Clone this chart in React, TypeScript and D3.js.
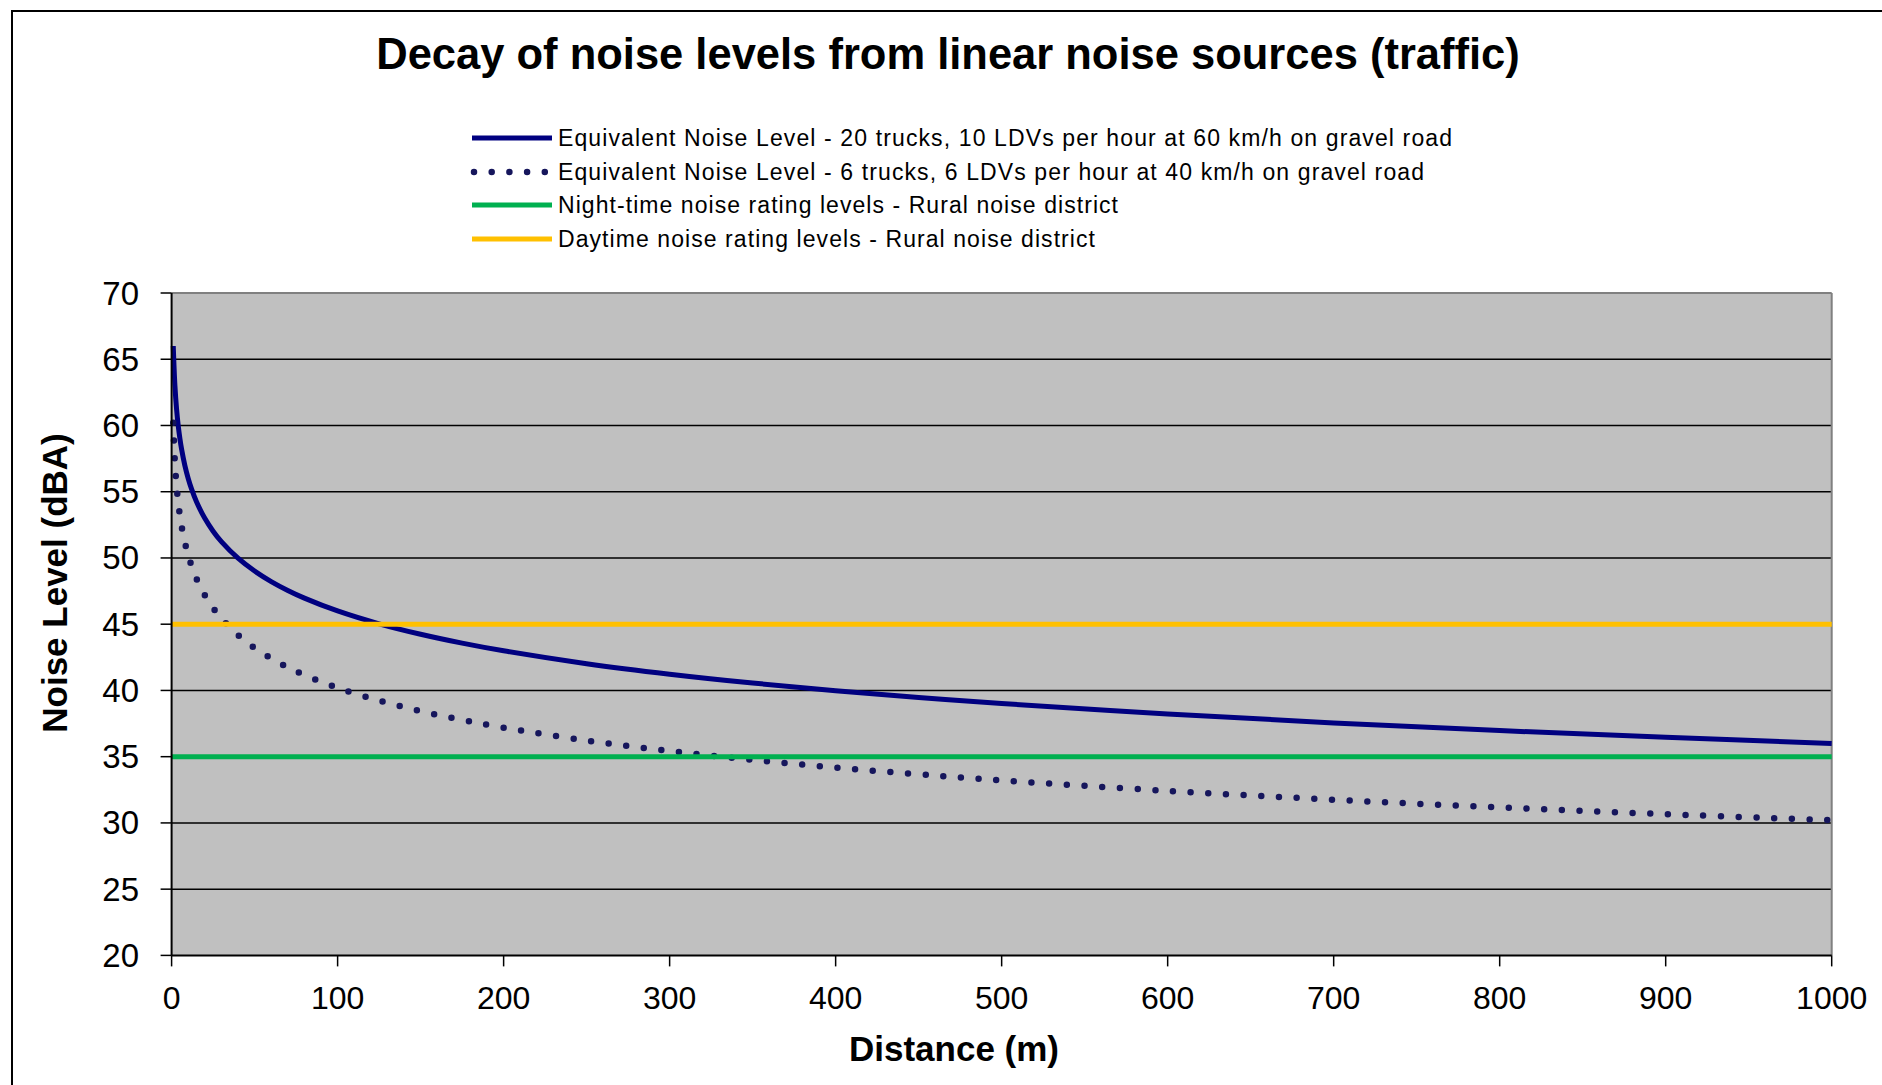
import React from 'react';
import * as d3 from 'd3';

// Distance from road (m)
const distances = [1, 2, 3, 4, 5, 6, 8, 10, 12, 15, 20, 25, 30, 40, 50, 60, 70, 80, 100, 125, 150, 175, 200, 250, 300, 350, 400, 450, 500, 600, 700, 800, 900, 1000];

// Equivalent Noise Level - 20 trucks, 10 LDVs per hour at 60 km/h
const heavyTraffic = [66.0, 63.0, 61.23, 59.98, 59.01, 58.22, 56.97, 56.0, 55.21, 54.24, 52.99, 52.02, 51.23, 49.98, 49.01, 48.22, 47.55, 46.97, 46.0, 45.03, 44.24, 43.57, 42.99, 42.02, 41.23, 40.56, 39.98, 39.47, 39.01, 38.22, 37.55, 36.97, 36.46, 36.0];

// Equivalent Noise Level - 6 trucks, 6 LDVs per hour at 40 km/h
const lightTraffic = [60.2, 57.19, 55.43, 54.18, 53.21, 52.42, 51.17, 50.2, 49.41, 48.44, 47.19, 46.22, 45.43, 44.18, 43.21, 42.42, 41.75, 41.17, 40.2, 39.23, 38.44, 37.77, 37.19, 36.22, 35.43, 34.76, 34.18, 33.67, 33.21, 32.42, 31.75, 31.17, 30.66, 30.2];

const nightLimit = 35;
const dayLimit = 45;

const yTicks = [20, 25, 30, 35, 40, 45, 50, 55, 60, 65, 70];
const xTicks = [0, 100, 200, 300, 400, 500, 600, 700, 800, 900, 1000];

const titleText = 'Decay of noise levels from linear noise sources (traffic)';
const xTitle = 'Distance (m)';
const yTitle = 'Noise Level (dBA)';
const legendLabels = [
  'Equivalent Noise Level - 20 trucks, 10 LDVs per hour at 60 km/h on gravel road',
  'Equivalent Noise Level - 6 trucks, 6 LDVs per hour at 40 km/h on gravel road',
  'Night-time noise rating levels - Rural noise district',
  'Daytime noise rating levels - Rural noise district',
];

const FONT = '"Liberation Sans", Arial, sans-serif';
const NAVY = '#000080';
const DOT = '#16165c';
const GREEN = '#00B050';
const GOLD = '#FFC000';

export default function App() {
  const W = 1882;
  const H = 1085;
  const plot = { left: 171.6, right: 1831.7, top: 293, bottom: 955.4 };

  const x = d3.scaleLinear().domain([0, 1000]).range([plot.left, plot.right]);
  const y = d3.scaleLinear().domain([20, 70]).range([plot.bottom, plot.top]);

  const lineGen = d3
    .line<number>()
    .x((_, i) => x(distances[i]))
    .y((d) => y(d))
    .curve(d3.curveCatmullRom.alpha(0.5));

  const heavyPath = lineGen(heavyTraffic) || '';
  const lightPath = lineGen(lightTraffic) || '';

  const legendRowsY = [138, 172, 205, 239];
  const legendLens = [894, 866, 560, 537];

  return (
    <svg
      width={W}
      height={H}
      viewBox={`0 0 ${W} ${H}`}
      style={{ position: 'absolute', left: 0, top: 0, display: 'block', background: '#fff' }}
    >
      {/* outer frame */}
      <rect x={12} y={11} width={W} height={H} fill="#fff" stroke="#000" strokeWidth={2} />

      {/* title */}
      <text
        x={948}
        y={69}
        textAnchor="middle"
        fontFamily={FONT}
        fontWeight="bold"
        fontSize={43.5}
        fill="#000"
      >
        {titleText}
      </text>

      {/* legend */}
      {legendLabels.map((lab, i) => {
        const ly = legendRowsY[i];
        let sample;
        if (i === 0) sample = <line x1={472} x2={552} y1={ly} y2={ly} stroke={NAVY} strokeWidth={5} />;
        else if (i === 1)
          sample = (
            <line x1={474} x2={552} y1={ly} y2={ly} stroke={DOT} strokeWidth={6.5} strokeLinecap="round" strokeDasharray="0 17.7" />
          );
        else if (i === 2) sample = <line x1={472} x2={552} y1={ly} y2={ly} stroke={GREEN} strokeWidth={5} />;
        else sample = <line x1={472} x2={552} y1={ly} y2={ly} stroke={GOLD} strokeWidth={5} />;
        return (
          <g key={i}>
            {sample}
            <text
              x={558}
              y={ly}
              dominantBaseline="central"
              fontFamily={FONT}
              fontSize={23}
              fill="#000"
              textLength={legendLens[i]}
              lengthAdjust="spacing"
            >
              {lab}
            </text>
          </g>
        );
      })}

      {/* plot area */}
      <rect x={plot.left} y={plot.top} width={plot.right - plot.left} height={plot.bottom - plot.top} fill="#C0C0C0" />

      {/* gridlines */}
      {yTicks
        .filter((t) => t > 20 && t < 70)
        .map((t) => (
          <line key={t} x1={plot.left} x2={plot.right} y1={y(t)} y2={y(t)} stroke="#000" strokeWidth={1.5} />
        ))}

      {/* plot border top/right */}
      <line x1={plot.left} x2={plot.right} y1={plot.top} y2={plot.top} stroke="#808080" strokeWidth={2} />
      <line x1={plot.right} x2={plot.right} y1={plot.top} y2={plot.bottom} stroke="#808080" strokeWidth={2} />

      {/* series */}
      <path d={heavyPath} fill="none" stroke={NAVY} strokeWidth={5} strokeLinejoin="round" />
      <path
        d={lightPath}
        fill="none"
        stroke={DOT}
        strokeWidth={6.5}
        strokeLinecap="round"
        strokeDasharray="0 17.7"
      />
      <line x1={plot.left} x2={plot.right} y1={y(nightLimit)} y2={y(nightLimit)} stroke={GREEN} strokeWidth={5} />
      <line x1={plot.left} x2={plot.right} y1={y(dayLimit)} y2={y(dayLimit)} stroke={GOLD} strokeWidth={5} />

      {/* axes */}
      <line x1={plot.left} x2={plot.left} y1={plot.top} y2={plot.bottom} stroke="#000" strokeWidth={2} />
      <line x1={plot.left} x2={plot.right} y1={plot.bottom} y2={plot.bottom} stroke="#000" strokeWidth={2} />

      {yTicks.map((t) => (
        <g key={t}>
          <line x1={plot.left - 11} x2={plot.left} y1={y(t)} y2={y(t)} stroke="#000" strokeWidth={1.5} />
          <text
            x={139}
            y={y(t)}
            textAnchor="end"
            dominantBaseline="central"
            fontFamily={FONT}
            fontSize={33}
            fill="#000"
          >
            {t}
          </text>
        </g>
      ))}

      {xTicks.map((t) => (
        <g key={t}>
          <line x1={x(t)} x2={x(t)} y1={plot.bottom} y2={plot.bottom + 11} stroke="#000" strokeWidth={1.5} />
          <text x={x(t)} y={1009} textAnchor="middle" fontFamily={FONT} fontSize={32} fill="#000">
            {t}
          </text>
        </g>
      ))}

      {/* axis titles */}
      <text x={954} y={1061} textAnchor="middle" fontFamily={FONT} fontWeight="bold" fontSize={35} fill="#000">
        {xTitle}
      </text>
      <text
        transform={`translate(67, 583) rotate(-90)`}
        textAnchor="middle"
        fontFamily={FONT}
        fontWeight="bold"
        fontSize={35}
        fill="#000"
      >
        {yTitle}
      </text>
    </svg>
  );
}
